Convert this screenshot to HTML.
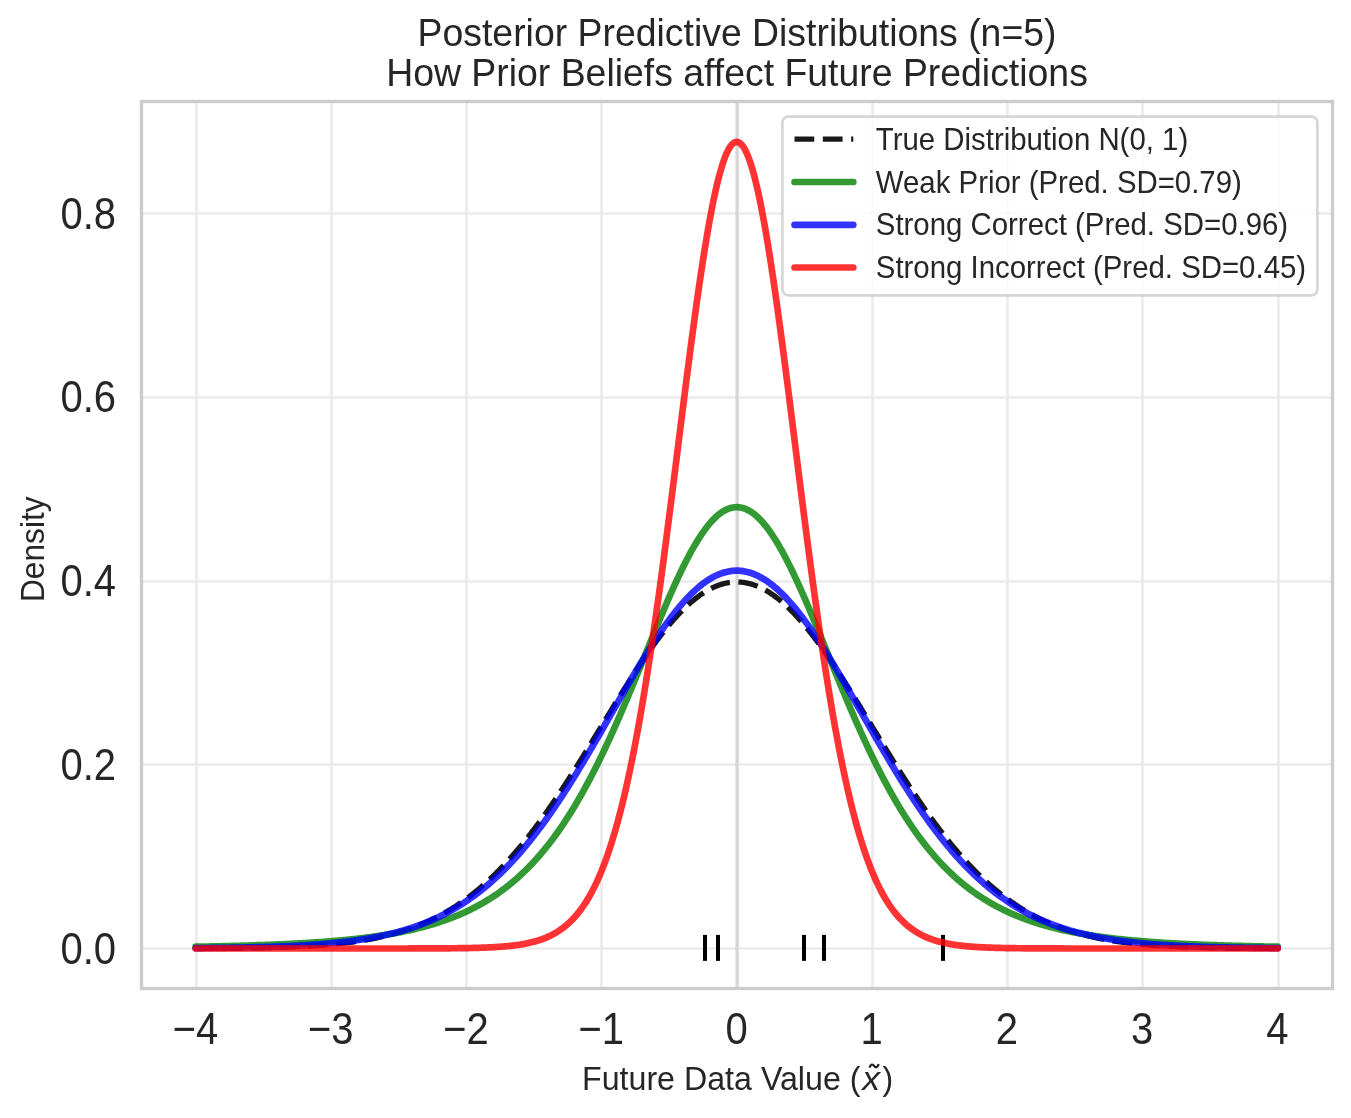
<!DOCTYPE html>
<html><head><meta charset="utf-8"><style>html,body{margin:0;padding:0;background:#fff;width:1351px;height:1118px;overflow:hidden}</style></head>
<body><svg width="1351" height="1118" viewBox="0 0 1351 1118" style="display:block;will-change:transform"><rect x="0" y="0" width="1351" height="1118" fill="#ffffff"/><line x1="196.50" y1="101.5" x2="196.50" y2="988.5" stroke="#ebebeb" stroke-width="2.67"/><line x1="331.50" y1="101.5" x2="331.50" y2="988.5" stroke="#ebebeb" stroke-width="2.67"/><line x1="466.50" y1="101.5" x2="466.50" y2="988.5" stroke="#ebebeb" stroke-width="2.67"/><line x1="601.50" y1="101.5" x2="601.50" y2="988.5" stroke="#ebebeb" stroke-width="2.67"/><line x1="737.50" y1="101.5" x2="737.50" y2="988.5" stroke="#ebebeb" stroke-width="2.67"/><line x1="872.50" y1="101.5" x2="872.50" y2="988.5" stroke="#ebebeb" stroke-width="2.67"/><line x1="1007.50" y1="101.5" x2="1007.50" y2="988.5" stroke="#ebebeb" stroke-width="2.67"/><line x1="1142.50" y1="101.5" x2="1142.50" y2="988.5" stroke="#ebebeb" stroke-width="2.67"/><line x1="1278.50" y1="101.5" x2="1278.50" y2="988.5" stroke="#ebebeb" stroke-width="2.67"/><line x1="141.5" y1="948.50" x2="1332.5" y2="948.50" stroke="#ebebeb" stroke-width="2.67"/><line x1="141.5" y1="764.50" x2="1332.5" y2="764.50" stroke="#ebebeb" stroke-width="2.67"/><line x1="141.5" y1="581.50" x2="1332.5" y2="581.50" stroke="#ebebeb" stroke-width="2.67"/><line x1="141.5" y1="397.50" x2="1332.5" y2="397.50" stroke="#ebebeb" stroke-width="2.67"/><line x1="141.5" y1="213.50" x2="1332.5" y2="213.50" stroke="#ebebeb" stroke-width="2.67"/><line x1="737.1" y1="101.5" x2="737.1" y2="988.5" stroke="#d7d7d7" stroke-width="3.3"/><rect x="703.00" y="934.9" width="4.0" height="25.95" fill="#000000"/><rect x="716.00" y="934.9" width="4.0" height="25.95" fill="#000000"/><rect x="802.00" y="934.9" width="4.0" height="25.95" fill="#000000"/><rect x="822.00" y="934.9" width="4.0" height="25.95" fill="#000000"/><rect x="941.00" y="934.9" width="4.0" height="25.95" fill="#000000"/><polyline points="195.70,948.38 196.78,948.37 197.87,948.37 198.95,948.36 200.03,948.36 201.12,948.36 202.20,948.35 203.28,948.35 204.36,948.34 205.45,948.34 206.53,948.33 207.61,948.33 208.70,948.32 209.78,948.31 210.86,948.31 211.95,948.30 213.03,948.30 214.11,948.29 215.20,948.28 216.28,948.28 217.36,948.27 218.44,948.26 219.53,948.26 220.61,948.25 221.69,948.24 222.78,948.23 223.86,948.22 224.94,948.21 226.03,948.21 227.11,948.20 228.19,948.19 229.28,948.18 230.36,948.17 231.44,948.16 232.52,948.15 233.61,948.14 234.69,948.13 235.77,948.12 236.86,948.10 237.94,948.09 239.02,948.08 240.11,948.07 241.19,948.05 242.27,948.04 243.36,948.03 244.44,948.01 245.52,948.00 246.60,947.98 247.69,947.97 248.77,947.95 249.85,947.94 250.94,947.92 252.02,947.90 253.10,947.89 254.19,947.87 255.27,947.85 256.35,947.83 257.44,947.81 258.52,947.79 259.60,947.77 260.68,947.75 261.77,947.73 262.85,947.71 263.93,947.69 265.02,947.66 266.10,947.64 267.18,947.61 268.27,947.59 269.35,947.56 270.43,947.54 271.52,947.51 272.60,947.48 273.68,947.45 274.77,947.43 275.85,947.40 276.93,947.37 278.01,947.33 279.10,947.30 280.18,947.27 281.26,947.24 282.35,947.20 283.43,947.17 284.51,947.13 285.60,947.09 286.68,947.05 287.76,947.02 288.85,946.98 289.93,946.93 291.01,946.89 292.09,946.85 293.18,946.81 294.26,946.76 295.34,946.71 296.43,946.67 297.51,946.62 298.59,946.57 299.68,946.52 300.76,946.47 301.84,946.41 302.93,946.36 304.01,946.30 305.09,946.25 306.17,946.19 307.26,946.13 308.34,946.07 309.42,946.01 310.51,945.94 311.59,945.88 312.67,945.81 313.76,945.74 314.84,945.67 315.92,945.60 317.01,945.53 318.09,945.45 319.17,945.38 320.25,945.30 321.34,945.22 322.42,945.14 323.50,945.05 324.59,944.97 325.67,944.88 326.75,944.79 327.84,944.70 328.92,944.61 330.00,944.51 331.09,944.42 332.17,944.32 333.25,944.22 334.33,944.11 335.42,944.01 336.50,943.90 337.58,943.79 338.67,943.68 339.75,943.56 340.83,943.44 341.92,943.32 343.00,943.20 344.08,943.08 345.17,942.95 346.25,942.82 347.33,942.69 348.41,942.55 349.50,942.41 350.58,942.27 351.66,942.13 352.75,941.98 353.83,941.83 354.91,941.68 356.00,941.52 357.08,941.37 358.16,941.20 359.25,941.04 360.33,940.87 361.41,940.70 362.49,940.52 363.58,940.34 364.66,940.16 365.74,939.98 366.83,939.79 367.91,939.60 368.99,939.40 370.08,939.20 371.16,939.00 372.24,938.79 373.33,938.58 374.41,938.36 375.49,938.14 376.57,937.92 377.66,937.69 378.74,937.46 379.82,937.22 380.91,936.98 381.99,936.74 383.07,936.49 384.16,936.23 385.24,935.98 386.32,935.71 387.41,935.44 388.49,935.17 389.57,934.89 390.65,934.61 391.74,934.33 392.82,934.03 393.90,933.74 394.99,933.43 396.07,933.13 397.15,932.81 398.24,932.50 399.32,932.17 400.40,931.84 401.49,931.51 402.57,931.17 403.65,930.82 404.74,930.47 405.82,930.12 406.90,929.75 407.98,929.38 409.07,929.01 410.15,928.63 411.23,928.24 412.32,927.85 413.40,927.45 414.48,927.04 415.57,926.63 416.65,926.21 417.73,925.78 418.82,925.35 419.90,924.91 420.98,924.46 422.06,924.01 423.15,923.55 424.23,923.09 425.31,922.61 426.40,922.13 427.48,921.64 428.56,921.15 429.65,920.65 430.73,920.13 431.81,919.62 432.90,919.09 433.98,918.56 435.06,918.02 436.14,917.47 437.23,916.91 438.31,916.35 439.39,915.78 440.48,915.20 441.56,914.61 442.64,914.01 443.73,913.41 444.81,912.80 445.89,912.18 446.98,911.55 448.06,910.91 449.14,910.26 450.22,909.61 451.31,908.94 452.39,908.27 453.47,907.59 454.56,906.90 455.64,906.20 456.72,905.49 457.81,904.77 458.89,904.04 459.97,903.31 461.06,902.56 462.14,901.81 463.22,901.04 464.30,900.27 465.39,899.49 466.47,898.70 467.55,897.90 468.64,897.08 469.72,896.26 470.80,895.43 471.89,894.59 472.97,893.74 474.05,892.88 475.14,892.01 476.22,891.13 477.30,890.24 478.38,889.34 479.47,888.43 480.55,887.51 481.63,886.58 482.72,885.64 483.80,884.69 484.88,883.73 485.97,882.76 487.05,881.78 488.13,880.79 489.22,879.79 490.30,878.78 491.38,877.75 492.46,876.72 493.55,875.68 494.63,874.62 495.71,873.56 496.80,872.48 497.88,871.40 498.96,870.30 500.05,869.20 501.13,868.08 502.21,866.95 503.30,865.82 504.38,864.67 505.46,863.51 506.54,862.34 507.63,861.16 508.71,859.97 509.79,858.77 510.88,857.56 511.96,856.34 513.04,855.11 514.13,853.87 515.21,852.62 516.29,851.35 517.38,850.08 518.46,848.80 519.54,847.50 520.62,846.20 521.71,844.89 522.79,843.56 523.87,842.23 524.96,840.88 526.04,839.53 527.12,838.16 528.21,836.79 529.29,835.41 530.37,834.01 531.46,832.61 532.54,831.20 533.62,829.77 534.71,828.34 535.79,826.90 536.87,825.45 537.95,823.99 539.04,822.52 540.12,821.04 541.20,819.55 542.29,818.05 543.37,816.55 544.45,815.03 545.54,813.51 546.62,811.98 547.70,810.44 548.79,808.89 549.87,807.33 550.95,805.76 552.03,804.19 553.12,802.61 554.20,801.02 555.28,799.42 556.37,797.82 557.45,796.20 558.53,794.58 559.62,792.96 560.70,791.32 561.78,789.68 562.87,788.03 563.95,786.38 565.03,784.72 566.11,783.05 567.20,781.37 568.28,779.69 569.36,778.01 570.45,776.31 571.53,774.62 572.61,772.91 573.70,771.20 574.78,769.49 575.86,767.77 576.95,766.05 578.03,764.32 579.11,762.59 580.19,760.85 581.28,759.11 582.36,757.37 583.44,755.62 584.53,753.87 585.61,752.11 586.69,750.35 587.78,748.59 588.86,746.83 589.94,745.06 591.03,743.29 592.11,741.52 593.19,739.75 594.27,737.97 595.36,736.20 596.44,734.42 597.52,732.64 598.61,730.86 599.69,729.08 600.77,727.30 601.86,725.52 602.94,723.74 604.02,721.96 605.11,720.18 606.19,718.40 607.27,716.63 608.35,714.85 609.44,713.08 610.52,711.30 611.60,709.53 612.69,707.76 613.77,706.00 614.85,704.23 615.94,702.47 617.02,700.71 618.10,698.96 619.19,697.21 620.27,695.46 621.35,693.72 622.43,691.98 623.52,690.25 624.60,688.52 625.68,686.80 626.77,685.08 627.85,683.37 628.93,681.66 630.02,679.96 631.10,678.27 632.18,676.59 633.27,674.91 634.35,673.23 635.43,671.57 636.51,669.91 637.60,668.27 638.68,666.63 639.76,664.99 640.85,663.37 641.93,661.76 643.01,660.15 644.10,658.56 645.18,656.97 646.26,655.40 647.35,653.83 648.43,652.28 649.51,650.74 650.59,649.21 651.68,647.69 652.76,646.18 653.84,644.68 654.93,643.20 656.01,641.73 657.09,640.27 658.18,638.82 659.26,637.39 660.34,635.97 661.43,634.56 662.51,633.17 663.59,631.79 664.67,630.43 665.76,629.08 666.84,627.74 667.92,626.42 669.01,625.12 670.09,623.83 671.17,622.56 672.26,621.30 673.34,620.06 674.42,618.84 675.51,617.63 676.59,616.44 677.67,615.27 678.76,614.11 679.84,612.97 680.92,611.85 682.00,610.75 683.09,609.67 684.17,608.60 685.25,607.55 686.34,606.52 687.42,605.51 688.50,604.52 689.59,603.55 690.67,602.60 691.75,601.66 692.84,600.75 693.92,599.86 695.00,598.98 696.08,598.13 697.17,597.30 698.25,596.49 699.33,595.70 700.42,594.93 701.50,594.18 702.58,593.45 703.67,592.74 704.75,592.06 705.83,591.39 706.92,590.75 708.00,590.13 709.08,589.53 710.16,588.96 711.25,588.40 712.33,587.87 713.41,587.36 714.50,586.88 715.58,586.41 716.66,585.97 717.75,585.55 718.83,585.16 719.91,584.78 721.00,584.43 722.08,584.11 723.16,583.80 724.24,583.52 725.33,583.27 726.41,583.03 727.49,582.82 728.58,582.63 729.66,582.47 730.74,582.33 731.83,582.21 732.91,582.12 733.99,582.05 735.08,582.00 736.16,581.97 737.24,581.97 738.32,582.00 739.41,582.05 740.49,582.12 741.57,582.21 742.66,582.33 743.74,582.47 744.82,582.63 745.91,582.82 746.99,583.03 748.07,583.27 749.16,583.52 750.24,583.80 751.32,584.11 752.40,584.43 753.49,584.78 754.57,585.16 755.65,585.55 756.74,585.97 757.82,586.41 758.90,586.88 759.99,587.36 761.07,587.87 762.15,588.40 763.24,588.96 764.32,589.53 765.40,590.13 766.48,590.75 767.57,591.39 768.65,592.06 769.73,592.74 770.82,593.45 771.90,594.18 772.98,594.93 774.07,595.70 775.15,596.49 776.23,597.30 777.32,598.13 778.40,598.98 779.48,599.86 780.56,600.75 781.65,601.66 782.73,602.60 783.81,603.55 784.90,604.52 785.98,605.51 787.06,606.52 788.15,607.55 789.23,608.60 790.31,609.67 791.40,610.75 792.48,611.85 793.56,612.97 794.64,614.11 795.73,615.27 796.81,616.44 797.89,617.63 798.98,618.84 800.06,620.06 801.14,621.30 802.23,622.56 803.31,623.83 804.39,625.12 805.48,626.42 806.56,627.74 807.64,629.08 808.73,630.43 809.81,631.79 810.89,633.17 811.97,634.56 813.06,635.97 814.14,637.39 815.22,638.82 816.31,640.27 817.39,641.73 818.47,643.20 819.56,644.68 820.64,646.18 821.72,647.69 822.81,649.21 823.89,650.74 824.97,652.28 826.05,653.83 827.14,655.40 828.22,656.97 829.30,658.56 830.39,660.15 831.47,661.76 832.55,663.37 833.64,664.99 834.72,666.63 835.80,668.27 836.89,669.91 837.97,671.57 839.05,673.23 840.13,674.91 841.22,676.59 842.30,678.27 843.38,679.96 844.47,681.66 845.55,683.37 846.63,685.08 847.72,686.80 848.80,688.52 849.88,690.25 850.97,691.98 852.05,693.72 853.13,695.46 854.21,697.21 855.30,698.96 856.38,700.71 857.46,702.47 858.55,704.23 859.63,706.00 860.71,707.76 861.80,709.53 862.88,711.30 863.96,713.08 865.05,714.85 866.13,716.63 867.21,718.40 868.29,720.18 869.38,721.96 870.46,723.74 871.54,725.52 872.63,727.30 873.71,729.08 874.79,730.86 875.88,732.64 876.96,734.42 878.04,736.20 879.13,737.97 880.21,739.75 881.29,741.52 882.37,743.29 883.46,745.06 884.54,746.83 885.62,748.59 886.71,750.35 887.79,752.11 888.87,753.87 889.96,755.62 891.04,757.37 892.12,759.11 893.21,760.85 894.29,762.59 895.37,764.32 896.45,766.05 897.54,767.77 898.62,769.49 899.70,771.20 900.79,772.91 901.87,774.62 902.95,776.31 904.04,778.01 905.12,779.69 906.20,781.37 907.29,783.05 908.37,784.72 909.45,786.38 910.53,788.03 911.62,789.68 912.70,791.32 913.78,792.96 914.87,794.58 915.95,796.20 917.03,797.82 918.12,799.42 919.20,801.02 920.28,802.61 921.37,804.19 922.45,805.76 923.53,807.33 924.61,808.89 925.70,810.44 926.78,811.98 927.86,813.51 928.95,815.03 930.03,816.55 931.11,818.05 932.20,819.55 933.28,821.04 934.36,822.52 935.45,823.99 936.53,825.45 937.61,826.90 938.69,828.34 939.78,829.77 940.86,831.20 941.94,832.61 943.03,834.01 944.11,835.41 945.19,836.79 946.28,838.16 947.36,839.53 948.44,840.88 949.53,842.23 950.61,843.56 951.69,844.89 952.78,846.20 953.86,847.50 954.94,848.80 956.02,850.08 957.11,851.35 958.19,852.62 959.27,853.87 960.36,855.11 961.44,856.34 962.52,857.56 963.61,858.77 964.69,859.97 965.77,861.16 966.86,862.34 967.94,863.51 969.02,864.67 970.10,865.82 971.19,866.95 972.27,868.08 973.35,869.20 974.44,870.30 975.52,871.40 976.60,872.48 977.69,873.56 978.77,874.62 979.85,875.68 980.94,876.72 982.02,877.75 983.10,878.78 984.18,879.79 985.27,880.79 986.35,881.78 987.43,882.76 988.52,883.73 989.60,884.69 990.68,885.64 991.77,886.58 992.85,887.51 993.93,888.43 995.02,889.34 996.10,890.24 997.18,891.13 998.26,892.01 999.35,892.88 1000.43,893.74 1001.51,894.59 1002.60,895.43 1003.68,896.26 1004.76,897.08 1005.85,897.90 1006.93,898.70 1008.01,899.49 1009.10,900.27 1010.18,901.04 1011.26,901.81 1012.34,902.56 1013.43,903.31 1014.51,904.04 1015.59,904.77 1016.68,905.49 1017.76,906.20 1018.84,906.90 1019.93,907.59 1021.01,908.27 1022.09,908.94 1023.18,909.61 1024.26,910.26 1025.34,910.91 1026.42,911.55 1027.51,912.18 1028.59,912.80 1029.67,913.41 1030.76,914.01 1031.84,914.61 1032.92,915.20 1034.01,915.78 1035.09,916.35 1036.17,916.91 1037.26,917.47 1038.34,918.02 1039.42,918.56 1040.50,919.09 1041.59,919.62 1042.67,920.13 1043.75,920.65 1044.84,921.15 1045.92,921.64 1047.00,922.13 1048.09,922.61 1049.17,923.09 1050.25,923.55 1051.34,924.01 1052.42,924.46 1053.50,924.91 1054.58,925.35 1055.67,925.78 1056.75,926.21 1057.83,926.63 1058.92,927.04 1060.00,927.45 1061.08,927.85 1062.17,928.24 1063.25,928.63 1064.33,929.01 1065.42,929.38 1066.50,929.75 1067.58,930.12 1068.66,930.47 1069.75,930.82 1070.83,931.17 1071.91,931.51 1073.00,931.84 1074.08,932.17 1075.16,932.50 1076.25,932.81 1077.33,933.13 1078.41,933.43 1079.50,933.74 1080.58,934.03 1081.66,934.33 1082.75,934.61 1083.83,934.89 1084.91,935.17 1085.99,935.44 1087.08,935.71 1088.16,935.98 1089.24,936.23 1090.33,936.49 1091.41,936.74 1092.49,936.98 1093.58,937.22 1094.66,937.46 1095.74,937.69 1096.83,937.92 1097.91,938.14 1098.99,938.36 1100.07,938.58 1101.16,938.79 1102.24,939.00 1103.32,939.20 1104.41,939.40 1105.49,939.60 1106.57,939.79 1107.66,939.98 1108.74,940.16 1109.82,940.34 1110.91,940.52 1111.99,940.70 1113.07,940.87 1114.15,941.04 1115.24,941.20 1116.32,941.37 1117.40,941.52 1118.49,941.68 1119.57,941.83 1120.65,941.98 1121.74,942.13 1122.82,942.27 1123.90,942.41 1124.99,942.55 1126.07,942.69 1127.15,942.82 1128.23,942.95 1129.32,943.08 1130.40,943.20 1131.48,943.32 1132.57,943.44 1133.65,943.56 1134.73,943.68 1135.82,943.79 1136.90,943.90 1137.98,944.01 1139.07,944.11 1140.15,944.22 1141.23,944.32 1142.31,944.42 1143.40,944.51 1144.48,944.61 1145.56,944.70 1146.65,944.79 1147.73,944.88 1148.81,944.97 1149.90,945.05 1150.98,945.14 1152.06,945.22 1153.15,945.30 1154.23,945.38 1155.31,945.45 1156.39,945.53 1157.48,945.60 1158.56,945.67 1159.64,945.74 1160.73,945.81 1161.81,945.88 1162.89,945.94 1163.98,946.01 1165.06,946.07 1166.14,946.13 1167.23,946.19 1168.31,946.25 1169.39,946.30 1170.47,946.36 1171.56,946.41 1172.64,946.47 1173.72,946.52 1174.81,946.57 1175.89,946.62 1176.97,946.67 1178.06,946.71 1179.14,946.76 1180.22,946.81 1181.31,946.85 1182.39,946.89 1183.47,946.93 1184.55,946.98 1185.64,947.02 1186.72,947.05 1187.80,947.09 1188.89,947.13 1189.97,947.17 1191.05,947.20 1192.14,947.24 1193.22,947.27 1194.30,947.30 1195.39,947.33 1196.47,947.37 1197.55,947.40 1198.63,947.43 1199.72,947.45 1200.80,947.48 1201.88,947.51 1202.97,947.54 1204.05,947.56 1205.13,947.59 1206.22,947.61 1207.30,947.64 1208.38,947.66 1209.47,947.69 1210.55,947.71 1211.63,947.73 1212.72,947.75 1213.80,947.77 1214.88,947.79 1215.96,947.81 1217.05,947.83 1218.13,947.85 1219.21,947.87 1220.30,947.89 1221.38,947.90 1222.46,947.92 1223.55,947.94 1224.63,947.95 1225.71,947.97 1226.80,947.98 1227.88,948.00 1228.96,948.01 1230.04,948.03 1231.13,948.04 1232.21,948.05 1233.29,948.07 1234.38,948.08 1235.46,948.09 1236.54,948.10 1237.63,948.12 1238.71,948.13 1239.79,948.14 1240.88,948.15 1241.96,948.16 1243.04,948.17 1244.12,948.18 1245.21,948.19 1246.29,948.20 1247.37,948.21 1248.46,948.21 1249.54,948.22 1250.62,948.23 1251.71,948.24 1252.79,948.25 1253.87,948.26 1254.96,948.26 1256.04,948.27 1257.12,948.28 1258.20,948.28 1259.29,948.29 1260.37,948.30 1261.45,948.30 1262.54,948.31 1263.62,948.31 1264.70,948.32 1265.79,948.33 1266.87,948.33 1267.95,948.34 1269.04,948.34 1270.12,948.35 1271.20,948.35 1272.28,948.36 1273.37,948.36 1274.45,948.36 1275.53,948.37 1276.62,948.37 1277.70,948.38" fill="none" stroke="#000000" stroke-opacity="0.9" stroke-width="5.34" stroke-dasharray="19.77 8.55" stroke-dashoffset="1" stroke-linecap="butt" stroke-linejoin="round"/><polyline points="195.70,946.71 196.78,946.69 197.87,946.67 198.95,946.65 200.03,946.63 201.12,946.61 202.20,946.59 203.28,946.57 204.36,946.55 205.45,946.53 206.53,946.51 207.61,946.49 208.70,946.47 209.78,946.45 210.86,946.43 211.95,946.41 213.03,946.38 214.11,946.36 215.20,946.34 216.28,946.32 217.36,946.29 218.44,946.27 219.53,946.24 220.61,946.22 221.69,946.20 222.78,946.17 223.86,946.15 224.94,946.12 226.03,946.10 227.11,946.07 228.19,946.04 229.28,946.02 230.36,945.99 231.44,945.96 232.52,945.94 233.61,945.91 234.69,945.88 235.77,945.85 236.86,945.82 237.94,945.79 239.02,945.76 240.11,945.73 241.19,945.70 242.27,945.67 243.36,945.64 244.44,945.61 245.52,945.58 246.60,945.55 247.69,945.51 248.77,945.48 249.85,945.45 250.94,945.41 252.02,945.38 253.10,945.34 254.19,945.31 255.27,945.27 256.35,945.24 257.44,945.20 258.52,945.16 259.60,945.13 260.68,945.09 261.77,945.05 262.85,945.01 263.93,944.97 265.02,944.93 266.10,944.89 267.18,944.85 268.27,944.81 269.35,944.77 270.43,944.73 271.52,944.68 272.60,944.64 273.68,944.60 274.77,944.55 275.85,944.51 276.93,944.46 278.01,944.41 279.10,944.37 280.18,944.32 281.26,944.27 282.35,944.22 283.43,944.17 284.51,944.12 285.60,944.07 286.68,944.02 287.76,943.97 288.85,943.92 289.93,943.86 291.01,943.81 292.09,943.75 293.18,943.70 294.26,943.64 295.34,943.59 296.43,943.53 297.51,943.47 298.59,943.41 299.68,943.35 300.76,943.29 301.84,943.23 302.93,943.17 304.01,943.10 305.09,943.04 306.17,942.97 307.26,942.91 308.34,942.84 309.42,942.77 310.51,942.71 311.59,942.64 312.67,942.57 313.76,942.50 314.84,942.42 315.92,942.35 317.01,942.28 318.09,942.20 319.17,942.13 320.25,942.05 321.34,941.97 322.42,941.89 323.50,941.81 324.59,941.73 325.67,941.65 326.75,941.57 327.84,941.48 328.92,941.40 330.00,941.31 331.09,941.22 332.17,941.13 333.25,941.04 334.33,940.95 335.42,940.86 336.50,940.76 337.58,940.67 338.67,940.57 339.75,940.48 340.83,940.38 341.92,940.28 343.00,940.17 344.08,940.07 345.17,939.97 346.25,939.86 347.33,939.75 348.41,939.64 349.50,939.53 350.58,939.42 351.66,939.31 352.75,939.19 353.83,939.08 354.91,938.96 356.00,938.84 357.08,938.72 358.16,938.59 359.25,938.47 360.33,938.34 361.41,938.21 362.49,938.08 363.58,937.95 364.66,937.82 365.74,937.68 366.83,937.54 367.91,937.40 368.99,937.26 370.08,937.12 371.16,936.97 372.24,936.83 373.33,936.68 374.41,936.52 375.49,936.37 376.57,936.21 377.66,936.06 378.74,935.90 379.82,935.73 380.91,935.57 381.99,935.40 383.07,935.23 384.16,935.06 385.24,934.89 386.32,934.71 387.41,934.53 388.49,934.35 389.57,934.17 390.65,933.98 391.74,933.79 392.82,933.60 393.90,933.40 394.99,933.20 396.07,933.00 397.15,932.80 398.24,932.59 399.32,932.39 400.40,932.17 401.49,931.96 402.57,931.74 403.65,931.52 404.74,931.30 405.82,931.07 406.90,930.84 407.98,930.60 409.07,930.37 410.15,930.13 411.23,929.88 412.32,929.63 413.40,929.38 414.48,929.13 415.57,928.87 416.65,928.61 417.73,928.34 418.82,928.07 419.90,927.80 420.98,927.52 422.06,927.24 423.15,926.96 424.23,926.67 425.31,926.37 426.40,926.08 427.48,925.77 428.56,925.47 429.65,925.16 430.73,924.84 431.81,924.52 432.90,924.20 433.98,923.87 435.06,923.54 436.14,923.20 437.23,922.86 438.31,922.51 439.39,922.16 440.48,921.80 441.56,921.43 442.64,921.07 443.73,920.69 444.81,920.31 445.89,919.93 446.98,919.54 448.06,919.14 449.14,918.74 450.22,918.34 451.31,917.93 452.39,917.51 453.47,917.08 454.56,916.65 455.64,916.22 456.72,915.77 457.81,915.32 458.89,914.87 459.97,914.41 461.06,913.94 462.14,913.46 463.22,912.98 464.30,912.49 465.39,912.00 466.47,911.49 467.55,910.98 468.64,910.47 469.72,909.94 470.80,909.41 471.89,908.87 472.97,908.33 474.05,907.77 475.14,907.21 476.22,906.64 477.30,906.06 478.38,905.47 479.47,904.88 480.55,904.27 481.63,903.66 482.72,903.04 483.80,902.41 484.88,901.78 485.97,901.13 487.05,900.47 488.13,899.81 489.22,899.14 490.30,898.45 491.38,897.76 492.46,897.06 493.55,896.34 494.63,895.62 495.71,894.89 496.80,894.15 497.88,893.40 498.96,892.63 500.05,891.86 501.13,891.08 502.21,890.28 503.30,889.48 504.38,888.66 505.46,887.83 506.54,886.99 507.63,886.14 508.71,885.28 509.79,884.41 510.88,883.53 511.96,882.63 513.04,881.72 514.13,880.80 515.21,879.87 516.29,878.92 517.38,877.96 518.46,876.99 519.54,876.01 520.62,875.01 521.71,874.00 522.79,872.98 523.87,871.94 524.96,870.90 526.04,869.83 527.12,868.76 528.21,867.66 529.29,866.56 530.37,865.44 531.46,864.31 532.54,863.16 533.62,862.00 534.71,860.82 535.79,859.63 536.87,858.42 537.95,857.20 539.04,855.96 540.12,854.71 541.20,853.44 542.29,852.16 543.37,850.86 544.45,849.55 545.54,848.22 546.62,846.87 547.70,845.51 548.79,844.13 549.87,842.73 550.95,841.32 552.03,839.89 553.12,838.45 554.20,836.99 555.28,835.51 556.37,834.01 557.45,832.50 558.53,830.97 559.62,829.42 560.70,827.86 561.78,826.27 562.87,824.67 563.95,823.06 565.03,821.42 566.11,819.77 567.20,818.10 568.28,816.41 569.36,814.70 570.45,812.98 571.53,811.23 572.61,809.47 573.70,807.69 574.78,805.90 575.86,804.08 576.95,802.25 578.03,800.40 579.11,798.53 580.19,796.64 581.28,794.73 582.36,792.81 583.44,790.87 584.53,788.90 585.61,786.93 586.69,784.93 587.78,782.91 588.86,780.88 589.94,778.83 591.03,776.76 592.11,774.67 593.19,772.57 594.27,770.45 595.36,768.31 596.44,766.15 597.52,763.98 598.61,761.78 599.69,759.58 600.77,757.35 601.86,755.11 602.94,752.85 604.02,750.57 605.11,748.28 606.19,745.98 607.27,743.65 608.35,741.31 609.44,738.96 610.52,736.59 611.60,734.21 612.69,731.81 613.77,729.39 614.85,726.97 615.94,724.53 617.02,722.07 618.10,719.61 619.19,717.13 620.27,714.63 621.35,712.13 622.43,709.61 623.52,707.09 624.60,704.55 625.68,702.00 626.77,699.44 627.85,696.87 628.93,694.29 630.02,691.71 631.10,689.11 632.18,686.51 633.27,683.90 634.35,681.28 635.43,678.66 636.51,676.03 637.60,673.40 638.68,670.76 639.76,668.12 640.85,665.47 641.93,662.83 643.01,660.17 644.10,657.52 645.18,654.87 646.26,652.22 647.35,649.56 648.43,646.91 649.51,644.26 650.59,641.61 651.68,638.97 652.76,636.32 653.84,633.69 654.93,631.06 656.01,628.43 657.09,625.81 658.18,623.20 659.26,620.60 660.34,618.01 661.43,615.42 662.51,612.85 663.59,610.29 664.67,607.74 665.76,605.20 666.84,602.68 667.92,600.17 669.01,597.68 670.09,595.21 671.17,592.75 672.26,590.31 673.34,587.89 674.42,585.49 675.51,583.11 676.59,580.75 677.67,578.41 678.76,576.10 679.84,573.81 680.92,571.55 682.00,569.31 683.09,567.10 684.17,564.92 685.25,562.77 686.34,560.64 687.42,558.55 688.50,556.48 689.59,554.45 690.67,552.45 691.75,550.48 692.84,548.55 693.92,546.66 695.00,544.80 696.08,542.97 697.17,541.19 698.25,539.44 699.33,537.73 700.42,536.06 701.50,534.43 702.58,532.85 703.67,531.30 704.75,529.80 705.83,528.34 706.92,526.92 708.00,525.55 709.08,524.23 710.16,522.95 711.25,521.71 712.33,520.53 713.41,519.39 714.50,518.30 715.58,517.25 716.66,516.26 717.75,515.32 718.83,514.42 719.91,513.58 721.00,512.79 722.08,512.04 723.16,511.35 724.24,510.72 725.33,510.13 726.41,509.60 727.49,509.11 728.58,508.69 729.66,508.31 730.74,507.99 731.83,507.72 732.91,507.50 733.99,507.34 735.08,507.24 736.16,507.18 737.24,507.18 738.32,507.24 739.41,507.34 740.49,507.50 741.57,507.72 742.66,507.99 743.74,508.31 744.82,508.69 745.91,509.11 746.99,509.60 748.07,510.13 749.16,510.72 750.24,511.35 751.32,512.04 752.40,512.79 753.49,513.58 754.57,514.42 755.65,515.32 756.74,516.26 757.82,517.25 758.90,518.30 759.99,519.39 761.07,520.53 762.15,521.71 763.24,522.95 764.32,524.23 765.40,525.55 766.48,526.92 767.57,528.34 768.65,529.80 769.73,531.30 770.82,532.85 771.90,534.43 772.98,536.06 774.07,537.73 775.15,539.44 776.23,541.19 777.32,542.97 778.40,544.80 779.48,546.66 780.56,548.55 781.65,550.48 782.73,552.45 783.81,554.45 784.90,556.48 785.98,558.55 787.06,560.64 788.15,562.77 789.23,564.92 790.31,567.10 791.40,569.31 792.48,571.55 793.56,573.81 794.64,576.10 795.73,578.41 796.81,580.75 797.89,583.11 798.98,585.49 800.06,587.89 801.14,590.31 802.23,592.75 803.31,595.21 804.39,597.68 805.48,600.17 806.56,602.68 807.64,605.20 808.73,607.74 809.81,610.29 810.89,612.85 811.97,615.42 813.06,618.01 814.14,620.60 815.22,623.20 816.31,625.81 817.39,628.43 818.47,631.06 819.56,633.69 820.64,636.32 821.72,638.97 822.81,641.61 823.89,644.26 824.97,646.91 826.05,649.56 827.14,652.22 828.22,654.87 829.30,657.52 830.39,660.17 831.47,662.83 832.55,665.47 833.64,668.12 834.72,670.76 835.80,673.40 836.89,676.03 837.97,678.66 839.05,681.28 840.13,683.90 841.22,686.51 842.30,689.11 843.38,691.71 844.47,694.29 845.55,696.87 846.63,699.44 847.72,702.00 848.80,704.55 849.88,707.09 850.97,709.61 852.05,712.13 853.13,714.63 854.21,717.13 855.30,719.61 856.38,722.07 857.46,724.53 858.55,726.97 859.63,729.39 860.71,731.81 861.80,734.21 862.88,736.59 863.96,738.96 865.05,741.31 866.13,743.65 867.21,745.98 868.29,748.28 869.38,750.57 870.46,752.85 871.54,755.11 872.63,757.35 873.71,759.58 874.79,761.78 875.88,763.98 876.96,766.15 878.04,768.31 879.13,770.45 880.21,772.57 881.29,774.67 882.37,776.76 883.46,778.83 884.54,780.88 885.62,782.91 886.71,784.93 887.79,786.93 888.87,788.90 889.96,790.87 891.04,792.81 892.12,794.73 893.21,796.64 894.29,798.53 895.37,800.40 896.45,802.25 897.54,804.08 898.62,805.90 899.70,807.69 900.79,809.47 901.87,811.23 902.95,812.98 904.04,814.70 905.12,816.41 906.20,818.10 907.29,819.77 908.37,821.42 909.45,823.06 910.53,824.67 911.62,826.27 912.70,827.86 913.78,829.42 914.87,830.97 915.95,832.50 917.03,834.01 918.12,835.51 919.20,836.99 920.28,838.45 921.37,839.89 922.45,841.32 923.53,842.73 924.61,844.13 925.70,845.51 926.78,846.87 927.86,848.22 928.95,849.55 930.03,850.86 931.11,852.16 932.20,853.44 933.28,854.71 934.36,855.96 935.45,857.20 936.53,858.42 937.61,859.63 938.69,860.82 939.78,862.00 940.86,863.16 941.94,864.31 943.03,865.44 944.11,866.56 945.19,867.66 946.28,868.76 947.36,869.83 948.44,870.90 949.53,871.94 950.61,872.98 951.69,874.00 952.78,875.01 953.86,876.01 954.94,876.99 956.02,877.96 957.11,878.92 958.19,879.87 959.27,880.80 960.36,881.72 961.44,882.63 962.52,883.53 963.61,884.41 964.69,885.28 965.77,886.14 966.86,886.99 967.94,887.83 969.02,888.66 970.10,889.48 971.19,890.28 972.27,891.08 973.35,891.86 974.44,892.63 975.52,893.40 976.60,894.15 977.69,894.89 978.77,895.62 979.85,896.34 980.94,897.06 982.02,897.76 983.10,898.45 984.18,899.14 985.27,899.81 986.35,900.47 987.43,901.13 988.52,901.78 989.60,902.41 990.68,903.04 991.77,903.66 992.85,904.27 993.93,904.88 995.02,905.47 996.10,906.06 997.18,906.64 998.26,907.21 999.35,907.77 1000.43,908.33 1001.51,908.87 1002.60,909.41 1003.68,909.94 1004.76,910.47 1005.85,910.98 1006.93,911.49 1008.01,912.00 1009.10,912.49 1010.18,912.98 1011.26,913.46 1012.34,913.94 1013.43,914.41 1014.51,914.87 1015.59,915.32 1016.68,915.77 1017.76,916.22 1018.84,916.65 1019.93,917.08 1021.01,917.51 1022.09,917.93 1023.18,918.34 1024.26,918.74 1025.34,919.14 1026.42,919.54 1027.51,919.93 1028.59,920.31 1029.67,920.69 1030.76,921.07 1031.84,921.43 1032.92,921.80 1034.01,922.16 1035.09,922.51 1036.17,922.86 1037.26,923.20 1038.34,923.54 1039.42,923.87 1040.50,924.20 1041.59,924.52 1042.67,924.84 1043.75,925.16 1044.84,925.47 1045.92,925.77 1047.00,926.08 1048.09,926.37 1049.17,926.67 1050.25,926.96 1051.34,927.24 1052.42,927.52 1053.50,927.80 1054.58,928.07 1055.67,928.34 1056.75,928.61 1057.83,928.87 1058.92,929.13 1060.00,929.38 1061.08,929.63 1062.17,929.88 1063.25,930.13 1064.33,930.37 1065.42,930.60 1066.50,930.84 1067.58,931.07 1068.66,931.30 1069.75,931.52 1070.83,931.74 1071.91,931.96 1073.00,932.17 1074.08,932.39 1075.16,932.59 1076.25,932.80 1077.33,933.00 1078.41,933.20 1079.50,933.40 1080.58,933.60 1081.66,933.79 1082.75,933.98 1083.83,934.17 1084.91,934.35 1085.99,934.53 1087.08,934.71 1088.16,934.89 1089.24,935.06 1090.33,935.23 1091.41,935.40 1092.49,935.57 1093.58,935.73 1094.66,935.90 1095.74,936.06 1096.83,936.21 1097.91,936.37 1098.99,936.52 1100.07,936.68 1101.16,936.83 1102.24,936.97 1103.32,937.12 1104.41,937.26 1105.49,937.40 1106.57,937.54 1107.66,937.68 1108.74,937.82 1109.82,937.95 1110.91,938.08 1111.99,938.21 1113.07,938.34 1114.15,938.47 1115.24,938.59 1116.32,938.72 1117.40,938.84 1118.49,938.96 1119.57,939.08 1120.65,939.19 1121.74,939.31 1122.82,939.42 1123.90,939.53 1124.99,939.64 1126.07,939.75 1127.15,939.86 1128.23,939.97 1129.32,940.07 1130.40,940.17 1131.48,940.28 1132.57,940.38 1133.65,940.48 1134.73,940.57 1135.82,940.67 1136.90,940.76 1137.98,940.86 1139.07,940.95 1140.15,941.04 1141.23,941.13 1142.31,941.22 1143.40,941.31 1144.48,941.40 1145.56,941.48 1146.65,941.57 1147.73,941.65 1148.81,941.73 1149.90,941.81 1150.98,941.89 1152.06,941.97 1153.15,942.05 1154.23,942.13 1155.31,942.20 1156.39,942.28 1157.48,942.35 1158.56,942.42 1159.64,942.50 1160.73,942.57 1161.81,942.64 1162.89,942.71 1163.98,942.77 1165.06,942.84 1166.14,942.91 1167.23,942.97 1168.31,943.04 1169.39,943.10 1170.47,943.17 1171.56,943.23 1172.64,943.29 1173.72,943.35 1174.81,943.41 1175.89,943.47 1176.97,943.53 1178.06,943.59 1179.14,943.64 1180.22,943.70 1181.31,943.75 1182.39,943.81 1183.47,943.86 1184.55,943.92 1185.64,943.97 1186.72,944.02 1187.80,944.07 1188.89,944.12 1189.97,944.17 1191.05,944.22 1192.14,944.27 1193.22,944.32 1194.30,944.37 1195.39,944.41 1196.47,944.46 1197.55,944.51 1198.63,944.55 1199.72,944.60 1200.80,944.64 1201.88,944.68 1202.97,944.73 1204.05,944.77 1205.13,944.81 1206.22,944.85 1207.30,944.89 1208.38,944.93 1209.47,944.97 1210.55,945.01 1211.63,945.05 1212.72,945.09 1213.80,945.13 1214.88,945.16 1215.96,945.20 1217.05,945.24 1218.13,945.27 1219.21,945.31 1220.30,945.34 1221.38,945.38 1222.46,945.41 1223.55,945.45 1224.63,945.48 1225.71,945.51 1226.80,945.55 1227.88,945.58 1228.96,945.61 1230.04,945.64 1231.13,945.67 1232.21,945.70 1233.29,945.73 1234.38,945.76 1235.46,945.79 1236.54,945.82 1237.63,945.85 1238.71,945.88 1239.79,945.91 1240.88,945.94 1241.96,945.96 1243.04,945.99 1244.12,946.02 1245.21,946.04 1246.29,946.07 1247.37,946.10 1248.46,946.12 1249.54,946.15 1250.62,946.17 1251.71,946.20 1252.79,946.22 1253.87,946.24 1254.96,946.27 1256.04,946.29 1257.12,946.32 1258.20,946.34 1259.29,946.36 1260.37,946.38 1261.45,946.41 1262.54,946.43 1263.62,946.45 1264.70,946.47 1265.79,946.49 1266.87,946.51 1267.95,946.53 1269.04,946.55 1270.12,946.57 1271.20,946.59 1272.28,946.61 1273.37,946.63 1274.45,946.65 1275.53,946.67 1276.62,946.69 1277.70,946.71" fill="none" stroke="#008000" stroke-opacity="0.8" stroke-width="6.68" stroke-linecap="round" stroke-linejoin="round"/><polyline points="195.70,948.10 196.78,948.09 197.87,948.08 198.95,948.07 200.03,948.06 201.12,948.06 202.20,948.05 203.28,948.04 204.36,948.03 205.45,948.02 206.53,948.01 207.61,947.99 208.70,947.98 209.78,947.97 210.86,947.96 211.95,947.95 213.03,947.94 214.11,947.93 215.20,947.91 216.28,947.90 217.36,947.89 218.44,947.88 219.53,947.86 220.61,947.85 221.69,947.83 222.78,947.82 223.86,947.81 224.94,947.79 226.03,947.78 227.11,947.76 228.19,947.74 229.28,947.73 230.36,947.71 231.44,947.70 232.52,947.68 233.61,947.66 234.69,947.64 235.77,947.63 236.86,947.61 237.94,947.59 239.02,947.57 240.11,947.55 241.19,947.53 242.27,947.51 243.36,947.49 244.44,947.47 245.52,947.44 246.60,947.42 247.69,947.40 248.77,947.38 249.85,947.35 250.94,947.33 252.02,947.30 253.10,947.28 254.19,947.25 255.27,947.23 256.35,947.20 257.44,947.17 258.52,947.14 259.60,947.12 260.68,947.09 261.77,947.06 262.85,947.03 263.93,947.00 265.02,946.97 266.10,946.93 267.18,946.90 268.27,946.87 269.35,946.83 270.43,946.80 271.52,946.76 272.60,946.73 273.68,946.69 274.77,946.65 275.85,946.62 276.93,946.58 278.01,946.54 279.10,946.50 280.18,946.46 281.26,946.41 282.35,946.37 283.43,946.33 284.51,946.28 285.60,946.24 286.68,946.19 287.76,946.14 288.85,946.09 289.93,946.05 291.01,946.00 292.09,945.94 293.18,945.89 294.26,945.84 295.34,945.78 296.43,945.73 297.51,945.67 298.59,945.62 299.68,945.56 300.76,945.50 301.84,945.44 302.93,945.37 304.01,945.31 305.09,945.25 306.17,945.18 307.26,945.11 308.34,945.05 309.42,944.98 310.51,944.91 311.59,944.83 312.67,944.76 313.76,944.69 314.84,944.61 315.92,944.53 317.01,944.45 318.09,944.37 319.17,944.29 320.25,944.21 321.34,944.12 322.42,944.03 323.50,943.94 324.59,943.85 325.67,943.76 326.75,943.67 327.84,943.57 328.92,943.48 330.00,943.38 331.09,943.28 332.17,943.17 333.25,943.07 334.33,942.96 335.42,942.85 336.50,942.74 337.58,942.63 338.67,942.52 339.75,942.40 340.83,942.28 341.92,942.16 343.00,942.04 344.08,941.91 345.17,941.78 346.25,941.65 347.33,941.52 348.41,941.39 349.50,941.25 350.58,941.11 351.66,940.97 352.75,940.82 353.83,940.68 354.91,940.53 356.00,940.37 357.08,940.22 358.16,940.06 359.25,939.90 360.33,939.74 361.41,939.57 362.49,939.40 363.58,939.23 364.66,939.06 365.74,938.88 366.83,938.70 367.91,938.51 368.99,938.32 370.08,938.13 371.16,937.94 372.24,937.74 373.33,937.54 374.41,937.34 375.49,937.13 376.57,936.92 377.66,936.70 378.74,936.49 379.82,936.26 380.91,936.04 381.99,935.81 383.07,935.57 384.16,935.34 385.24,935.10 386.32,934.85 387.41,934.60 388.49,934.35 389.57,934.09 390.65,933.83 391.74,933.56 392.82,933.29 393.90,933.02 394.99,932.74 396.07,932.45 397.15,932.16 398.24,931.87 399.32,931.57 400.40,931.27 401.49,930.96 402.57,930.65 403.65,930.33 404.74,930.01 405.82,929.68 406.90,929.35 407.98,929.01 409.07,928.67 410.15,928.32 411.23,927.97 412.32,927.61 413.40,927.24 414.48,926.87 415.57,926.50 416.65,926.12 417.73,925.73 418.82,925.33 419.90,924.93 420.98,924.53 422.06,924.12 423.15,923.70 424.23,923.28 425.31,922.85 426.40,922.41 427.48,921.97 428.56,921.52 429.65,921.06 430.73,920.60 431.81,920.13 432.90,919.65 433.98,919.17 435.06,918.68 436.14,918.18 437.23,917.67 438.31,917.16 439.39,916.64 440.48,916.12 441.56,915.58 442.64,915.04 443.73,914.49 444.81,913.93 445.89,913.37 446.98,912.80 448.06,912.22 449.14,911.63 450.22,911.04 451.31,910.43 452.39,909.82 453.47,909.20 454.56,908.57 455.64,907.93 456.72,907.29 457.81,906.63 458.89,905.97 459.97,905.30 461.06,904.62 462.14,903.93 463.22,903.24 464.30,902.53 465.39,901.81 466.47,901.09 467.55,900.36 468.64,899.61 469.72,898.86 470.80,898.10 471.89,897.33 472.97,896.55 474.05,895.76 475.14,894.96 476.22,894.15 477.30,893.33 478.38,892.50 479.47,891.66 480.55,890.81 481.63,889.95 482.72,889.09 483.80,888.21 484.88,887.32 485.97,886.42 487.05,885.51 488.13,884.59 489.22,883.66 490.30,882.72 491.38,881.77 492.46,880.81 493.55,879.83 494.63,878.85 495.71,877.86 496.80,876.85 497.88,875.84 498.96,874.81 500.05,873.77 501.13,872.73 502.21,871.67 503.30,870.60 504.38,869.52 505.46,868.43 506.54,867.32 507.63,866.21 508.71,865.09 509.79,863.95 510.88,862.80 511.96,861.64 513.04,860.48 514.13,859.29 515.21,858.10 516.29,856.90 517.38,855.69 518.46,854.46 519.54,853.22 520.62,851.98 521.71,850.72 522.79,849.45 523.87,848.16 524.96,846.87 526.04,845.57 527.12,844.25 528.21,842.92 529.29,841.59 530.37,840.24 531.46,838.88 532.54,837.51 533.62,836.12 534.71,834.73 535.79,833.33 536.87,831.91 537.95,830.49 539.04,829.05 540.12,827.60 541.20,826.14 542.29,824.67 543.37,823.19 544.45,821.70 545.54,820.20 546.62,818.69 547.70,817.16 548.79,815.63 549.87,814.09 550.95,812.53 552.03,810.97 553.12,809.40 554.20,807.81 555.28,806.22 556.37,804.62 557.45,803.00 558.53,801.38 559.62,799.75 560.70,798.11 561.78,796.46 562.87,794.80 563.95,793.13 565.03,791.45 566.11,789.76 567.20,788.07 568.28,786.36 569.36,784.65 570.45,782.93 571.53,781.20 572.61,779.47 573.70,777.72 574.78,775.97 575.86,774.21 576.95,772.44 578.03,770.67 579.11,768.89 580.19,767.10 581.28,765.31 582.36,763.50 583.44,761.70 584.53,759.88 585.61,758.06 586.69,756.24 587.78,754.41 588.86,752.57 589.94,750.73 591.03,748.89 592.11,747.04 593.19,745.18 594.27,743.32 595.36,741.46 596.44,739.59 597.52,737.72 598.61,735.85 599.69,733.97 600.77,732.09 601.86,730.21 602.94,728.32 604.02,726.43 605.11,724.55 606.19,722.65 607.27,720.76 608.35,718.87 609.44,716.98 610.52,715.08 611.60,713.19 612.69,711.29 613.77,709.40 614.85,707.50 615.94,705.61 617.02,703.72 618.10,701.83 619.19,699.94 620.27,698.05 621.35,696.17 622.43,694.28 623.52,692.40 624.60,690.53 625.68,688.65 626.77,686.79 627.85,684.92 628.93,683.06 630.02,681.20 631.10,679.35 632.18,677.51 633.27,675.67 634.35,673.83 635.43,672.00 636.51,670.18 637.60,668.37 638.68,666.56 639.76,664.76 640.85,662.97 641.93,661.18 643.01,659.41 644.10,657.64 645.18,655.88 646.26,654.14 647.35,652.40 648.43,650.67 649.51,648.95 650.59,647.24 651.68,645.55 652.76,643.86 653.84,642.19 654.93,640.53 656.01,638.88 657.09,637.24 658.18,635.62 659.26,634.01 660.34,632.41 661.43,630.83 662.51,629.26 663.59,627.71 664.67,626.17 665.76,624.65 666.84,623.14 667.92,621.65 669.01,620.17 670.09,618.71 671.17,617.27 672.26,615.84 673.34,614.44 674.42,613.04 675.51,611.67 676.59,610.32 677.67,608.98 678.76,607.66 679.84,606.36 680.92,605.09 682.00,603.83 683.09,602.59 684.17,601.37 685.25,600.17 686.34,598.99 687.42,597.83 688.50,596.70 689.59,595.58 690.67,594.49 691.75,593.42 692.84,592.37 693.92,591.34 695.00,590.33 696.08,589.35 697.17,588.39 698.25,587.46 699.33,586.55 700.42,585.66 701.50,584.80 702.58,583.96 703.67,583.14 704.75,582.35 705.83,581.58 706.92,580.84 708.00,580.12 709.08,579.43 710.16,578.76 711.25,578.12 712.33,577.51 713.41,576.92 714.50,576.35 715.58,575.82 716.66,575.30 717.75,574.82 718.83,574.36 719.91,573.93 721.00,573.52 722.08,573.14 723.16,572.79 724.24,572.46 725.33,572.16 726.41,571.89 727.49,571.65 728.58,571.43 729.66,571.24 730.74,571.07 731.83,570.94 732.91,570.83 733.99,570.75 735.08,570.69 736.16,570.66 737.24,570.66 738.32,570.69 739.41,570.75 740.49,570.83 741.57,570.94 742.66,571.07 743.74,571.24 744.82,571.43 745.91,571.65 746.99,571.89 748.07,572.16 749.16,572.46 750.24,572.79 751.32,573.14 752.40,573.52 753.49,573.93 754.57,574.36 755.65,574.82 756.74,575.30 757.82,575.82 758.90,576.35 759.99,576.92 761.07,577.51 762.15,578.12 763.24,578.76 764.32,579.43 765.40,580.12 766.48,580.84 767.57,581.58 768.65,582.35 769.73,583.14 770.82,583.96 771.90,584.80 772.98,585.66 774.07,586.55 775.15,587.46 776.23,588.39 777.32,589.35 778.40,590.33 779.48,591.34 780.56,592.37 781.65,593.42 782.73,594.49 783.81,595.58 784.90,596.70 785.98,597.83 787.06,598.99 788.15,600.17 789.23,601.37 790.31,602.59 791.40,603.83 792.48,605.09 793.56,606.36 794.64,607.66 795.73,608.98 796.81,610.32 797.89,611.67 798.98,613.04 800.06,614.44 801.14,615.84 802.23,617.27 803.31,618.71 804.39,620.17 805.48,621.65 806.56,623.14 807.64,624.65 808.73,626.17 809.81,627.71 810.89,629.26 811.97,630.83 813.06,632.41 814.14,634.01 815.22,635.62 816.31,637.24 817.39,638.88 818.47,640.53 819.56,642.19 820.64,643.86 821.72,645.55 822.81,647.24 823.89,648.95 824.97,650.67 826.05,652.40 827.14,654.14 828.22,655.88 829.30,657.64 830.39,659.41 831.47,661.18 832.55,662.97 833.64,664.76 834.72,666.56 835.80,668.37 836.89,670.18 837.97,672.00 839.05,673.83 840.13,675.67 841.22,677.51 842.30,679.35 843.38,681.20 844.47,683.06 845.55,684.92 846.63,686.79 847.72,688.65 848.80,690.53 849.88,692.40 850.97,694.28 852.05,696.17 853.13,698.05 854.21,699.94 855.30,701.83 856.38,703.72 857.46,705.61 858.55,707.50 859.63,709.40 860.71,711.29 861.80,713.19 862.88,715.08 863.96,716.98 865.05,718.87 866.13,720.76 867.21,722.65 868.29,724.55 869.38,726.43 870.46,728.32 871.54,730.21 872.63,732.09 873.71,733.97 874.79,735.85 875.88,737.72 876.96,739.59 878.04,741.46 879.13,743.32 880.21,745.18 881.29,747.04 882.37,748.89 883.46,750.73 884.54,752.57 885.62,754.41 886.71,756.24 887.79,758.06 888.87,759.88 889.96,761.70 891.04,763.50 892.12,765.31 893.21,767.10 894.29,768.89 895.37,770.67 896.45,772.44 897.54,774.21 898.62,775.97 899.70,777.72 900.79,779.47 901.87,781.20 902.95,782.93 904.04,784.65 905.12,786.36 906.20,788.07 907.29,789.76 908.37,791.45 909.45,793.13 910.53,794.80 911.62,796.46 912.70,798.11 913.78,799.75 914.87,801.38 915.95,803.00 917.03,804.62 918.12,806.22 919.20,807.81 920.28,809.40 921.37,810.97 922.45,812.53 923.53,814.09 924.61,815.63 925.70,817.16 926.78,818.69 927.86,820.20 928.95,821.70 930.03,823.19 931.11,824.67 932.20,826.14 933.28,827.60 934.36,829.05 935.45,830.49 936.53,831.91 937.61,833.33 938.69,834.73 939.78,836.12 940.86,837.51 941.94,838.88 943.03,840.24 944.11,841.59 945.19,842.92 946.28,844.25 947.36,845.57 948.44,846.87 949.53,848.16 950.61,849.45 951.69,850.72 952.78,851.98 953.86,853.22 954.94,854.46 956.02,855.69 957.11,856.90 958.19,858.10 959.27,859.29 960.36,860.48 961.44,861.64 962.52,862.80 963.61,863.95 964.69,865.09 965.77,866.21 966.86,867.32 967.94,868.43 969.02,869.52 970.10,870.60 971.19,871.67 972.27,872.73 973.35,873.77 974.44,874.81 975.52,875.84 976.60,876.85 977.69,877.86 978.77,878.85 979.85,879.83 980.94,880.81 982.02,881.77 983.10,882.72 984.18,883.66 985.27,884.59 986.35,885.51 987.43,886.42 988.52,887.32 989.60,888.21 990.68,889.09 991.77,889.95 992.85,890.81 993.93,891.66 995.02,892.50 996.10,893.33 997.18,894.15 998.26,894.96 999.35,895.76 1000.43,896.55 1001.51,897.33 1002.60,898.10 1003.68,898.86 1004.76,899.61 1005.85,900.36 1006.93,901.09 1008.01,901.81 1009.10,902.53 1010.18,903.24 1011.26,903.93 1012.34,904.62 1013.43,905.30 1014.51,905.97 1015.59,906.63 1016.68,907.29 1017.76,907.93 1018.84,908.57 1019.93,909.20 1021.01,909.82 1022.09,910.43 1023.18,911.04 1024.26,911.63 1025.34,912.22 1026.42,912.80 1027.51,913.37 1028.59,913.93 1029.67,914.49 1030.76,915.04 1031.84,915.58 1032.92,916.12 1034.01,916.64 1035.09,917.16 1036.17,917.67 1037.26,918.18 1038.34,918.68 1039.42,919.17 1040.50,919.65 1041.59,920.13 1042.67,920.60 1043.75,921.06 1044.84,921.52 1045.92,921.97 1047.00,922.41 1048.09,922.85 1049.17,923.28 1050.25,923.70 1051.34,924.12 1052.42,924.53 1053.50,924.93 1054.58,925.33 1055.67,925.73 1056.75,926.12 1057.83,926.50 1058.92,926.87 1060.00,927.24 1061.08,927.61 1062.17,927.97 1063.25,928.32 1064.33,928.67 1065.42,929.01 1066.50,929.35 1067.58,929.68 1068.66,930.01 1069.75,930.33 1070.83,930.65 1071.91,930.96 1073.00,931.27 1074.08,931.57 1075.16,931.87 1076.25,932.16 1077.33,932.45 1078.41,932.74 1079.50,933.02 1080.58,933.29 1081.66,933.56 1082.75,933.83 1083.83,934.09 1084.91,934.35 1085.99,934.60 1087.08,934.85 1088.16,935.10 1089.24,935.34 1090.33,935.57 1091.41,935.81 1092.49,936.04 1093.58,936.26 1094.66,936.49 1095.74,936.70 1096.83,936.92 1097.91,937.13 1098.99,937.34 1100.07,937.54 1101.16,937.74 1102.24,937.94 1103.32,938.13 1104.41,938.32 1105.49,938.51 1106.57,938.70 1107.66,938.88 1108.74,939.06 1109.82,939.23 1110.91,939.40 1111.99,939.57 1113.07,939.74 1114.15,939.90 1115.24,940.06 1116.32,940.22 1117.40,940.37 1118.49,940.53 1119.57,940.68 1120.65,940.82 1121.74,940.97 1122.82,941.11 1123.90,941.25 1124.99,941.39 1126.07,941.52 1127.15,941.65 1128.23,941.78 1129.32,941.91 1130.40,942.04 1131.48,942.16 1132.57,942.28 1133.65,942.40 1134.73,942.52 1135.82,942.63 1136.90,942.74 1137.98,942.85 1139.07,942.96 1140.15,943.07 1141.23,943.17 1142.31,943.28 1143.40,943.38 1144.48,943.48 1145.56,943.57 1146.65,943.67 1147.73,943.76 1148.81,943.85 1149.90,943.94 1150.98,944.03 1152.06,944.12 1153.15,944.21 1154.23,944.29 1155.31,944.37 1156.39,944.45 1157.48,944.53 1158.56,944.61 1159.64,944.69 1160.73,944.76 1161.81,944.83 1162.89,944.91 1163.98,944.98 1165.06,945.05 1166.14,945.11 1167.23,945.18 1168.31,945.25 1169.39,945.31 1170.47,945.37 1171.56,945.44 1172.64,945.50 1173.72,945.56 1174.81,945.62 1175.89,945.67 1176.97,945.73 1178.06,945.78 1179.14,945.84 1180.22,945.89 1181.31,945.94 1182.39,946.00 1183.47,946.05 1184.55,946.09 1185.64,946.14 1186.72,946.19 1187.80,946.24 1188.89,946.28 1189.97,946.33 1191.05,946.37 1192.14,946.41 1193.22,946.46 1194.30,946.50 1195.39,946.54 1196.47,946.58 1197.55,946.62 1198.63,946.65 1199.72,946.69 1200.80,946.73 1201.88,946.76 1202.97,946.80 1204.05,946.83 1205.13,946.87 1206.22,946.90 1207.30,946.93 1208.38,946.97 1209.47,947.00 1210.55,947.03 1211.63,947.06 1212.72,947.09 1213.80,947.12 1214.88,947.14 1215.96,947.17 1217.05,947.20 1218.13,947.23 1219.21,947.25 1220.30,947.28 1221.38,947.30 1222.46,947.33 1223.55,947.35 1224.63,947.38 1225.71,947.40 1226.80,947.42 1227.88,947.44 1228.96,947.47 1230.04,947.49 1231.13,947.51 1232.21,947.53 1233.29,947.55 1234.38,947.57 1235.46,947.59 1236.54,947.61 1237.63,947.63 1238.71,947.64 1239.79,947.66 1240.88,947.68 1241.96,947.70 1243.04,947.71 1244.12,947.73 1245.21,947.74 1246.29,947.76 1247.37,947.78 1248.46,947.79 1249.54,947.81 1250.62,947.82 1251.71,947.83 1252.79,947.85 1253.87,947.86 1254.96,947.88 1256.04,947.89 1257.12,947.90 1258.20,947.91 1259.29,947.93 1260.37,947.94 1261.45,947.95 1262.54,947.96 1263.62,947.97 1264.70,947.98 1265.79,947.99 1266.87,948.01 1267.95,948.02 1269.04,948.03 1270.12,948.04 1271.20,948.05 1272.28,948.06 1273.37,948.06 1274.45,948.07 1275.53,948.08 1276.62,948.09 1277.70,948.10" fill="none" stroke="#0000ff" stroke-opacity="0.8" stroke-width="6.68" stroke-linecap="round" stroke-linejoin="round"/><polyline points="195.70,948.50 196.78,948.50 197.87,948.50 198.95,948.50 200.03,948.50 201.12,948.50 202.20,948.50 203.28,948.50 204.36,948.50 205.45,948.50 206.53,948.50 207.61,948.50 208.70,948.50 209.78,948.50 210.86,948.50 211.95,948.50 213.03,948.50 214.11,948.50 215.20,948.50 216.28,948.50 217.36,948.50 218.44,948.50 219.53,948.50 220.61,948.50 221.69,948.50 222.78,948.50 223.86,948.50 224.94,948.50 226.03,948.50 227.11,948.50 228.19,948.50 229.28,948.50 230.36,948.50 231.44,948.50 232.52,948.50 233.61,948.50 234.69,948.50 235.77,948.50 236.86,948.50 237.94,948.50 239.02,948.50 240.11,948.50 241.19,948.50 242.27,948.50 243.36,948.50 244.44,948.50 245.52,948.50 246.60,948.50 247.69,948.50 248.77,948.50 249.85,948.50 250.94,948.50 252.02,948.50 253.10,948.50 254.19,948.50 255.27,948.50 256.35,948.50 257.44,948.50 258.52,948.50 259.60,948.50 260.68,948.50 261.77,948.50 262.85,948.50 263.93,948.50 265.02,948.50 266.10,948.50 267.18,948.50 268.27,948.50 269.35,948.50 270.43,948.50 271.52,948.50 272.60,948.50 273.68,948.50 274.77,948.50 275.85,948.50 276.93,948.50 278.01,948.50 279.10,948.50 280.18,948.50 281.26,948.50 282.35,948.50 283.43,948.50 284.51,948.50 285.60,948.50 286.68,948.50 287.76,948.50 288.85,948.50 289.93,948.50 291.01,948.50 292.09,948.50 293.18,948.50 294.26,948.50 295.34,948.50 296.43,948.50 297.51,948.50 298.59,948.50 299.68,948.50 300.76,948.50 301.84,948.50 302.93,948.50 304.01,948.50 305.09,948.50 306.17,948.50 307.26,948.50 308.34,948.50 309.42,948.50 310.51,948.50 311.59,948.50 312.67,948.50 313.76,948.50 314.84,948.50 315.92,948.50 317.01,948.50 318.09,948.50 319.17,948.50 320.25,948.50 321.34,948.50 322.42,948.50 323.50,948.50 324.59,948.50 325.67,948.50 326.75,948.50 327.84,948.50 328.92,948.50 330.00,948.50 331.09,948.50 332.17,948.50 333.25,948.50 334.33,948.50 335.42,948.50 336.50,948.50 337.58,948.50 338.67,948.50 339.75,948.50 340.83,948.50 341.92,948.50 343.00,948.50 344.08,948.50 345.17,948.50 346.25,948.50 347.33,948.50 348.41,948.50 349.50,948.50 350.58,948.50 351.66,948.50 352.75,948.50 353.83,948.50 354.91,948.50 356.00,948.50 357.08,948.50 358.16,948.50 359.25,948.50 360.33,948.50 361.41,948.50 362.49,948.49 363.58,948.49 364.66,948.49 365.74,948.49 366.83,948.49 367.91,948.49 368.99,948.49 370.08,948.49 371.16,948.49 372.24,948.49 373.33,948.49 374.41,948.49 375.49,948.49 376.57,948.49 377.66,948.49 378.74,948.49 379.82,948.49 380.91,948.49 381.99,948.49 383.07,948.49 384.16,948.49 385.24,948.49 386.32,948.49 387.41,948.49 388.49,948.48 389.57,948.48 390.65,948.48 391.74,948.48 392.82,948.48 393.90,948.48 394.99,948.48 396.07,948.48 397.15,948.48 398.24,948.48 399.32,948.48 400.40,948.47 401.49,948.47 402.57,948.47 403.65,948.47 404.74,948.47 405.82,948.47 406.90,948.47 407.98,948.47 409.07,948.46 410.15,948.46 411.23,948.46 412.32,948.46 413.40,948.46 414.48,948.45 415.57,948.45 416.65,948.45 417.73,948.45 418.82,948.45 419.90,948.44 420.98,948.44 422.06,948.44 423.15,948.43 424.23,948.43 425.31,948.43 426.40,948.42 427.48,948.42 428.56,948.42 429.65,948.41 430.73,948.41 431.81,948.40 432.90,948.40 433.98,948.39 435.06,948.39 436.14,948.38 437.23,948.38 438.31,948.37 439.39,948.37 440.48,948.36 441.56,948.35 442.64,948.35 443.73,948.34 444.81,948.33 445.89,948.33 446.98,948.32 448.06,948.31 449.14,948.30 450.22,948.29 451.31,948.28 452.39,948.27 453.47,948.26 454.56,948.25 455.64,948.24 456.72,948.22 457.81,948.21 458.89,948.20 459.97,948.18 461.06,948.17 462.14,948.15 463.22,948.13 464.30,948.12 465.39,948.10 466.47,948.08 467.55,948.06 468.64,948.04 469.72,948.02 470.80,948.00 471.89,947.97 472.97,947.95 474.05,947.92 475.14,947.89 476.22,947.87 477.30,947.84 478.38,947.81 479.47,947.77 480.55,947.74 481.63,947.70 482.72,947.67 483.80,947.63 484.88,947.59 485.97,947.54 487.05,947.50 488.13,947.45 489.22,947.41 490.30,947.35 491.38,947.30 492.46,947.25 493.55,947.19 494.63,947.13 495.71,947.06 496.80,947.00 497.88,946.93 498.96,946.86 500.05,946.78 501.13,946.70 502.21,946.62 503.30,946.53 504.38,946.44 505.46,946.35 506.54,946.25 507.63,946.15 508.71,946.04 509.79,945.93 510.88,945.82 511.96,945.69 513.04,945.57 514.13,945.44 515.21,945.30 516.29,945.15 517.38,945.00 518.46,944.85 519.54,944.68 520.62,944.51 521.71,944.33 522.79,944.15 523.87,943.95 524.96,943.75 526.04,943.54 527.12,943.32 528.21,943.09 529.29,942.86 530.37,942.61 531.46,942.35 532.54,942.08 533.62,941.80 534.71,941.51 535.79,941.20 536.87,940.89 537.95,940.56 539.04,940.21 540.12,939.85 541.20,939.48 542.29,939.09 543.37,938.69 544.45,938.27 545.54,937.84 546.62,937.38 547.70,936.91 548.79,936.42 549.87,935.91 550.95,935.38 552.03,934.83 553.12,934.26 554.20,933.66 555.28,933.05 556.37,932.41 557.45,931.74 558.53,931.05 559.62,930.33 560.70,929.59 561.78,928.81 562.87,928.01 563.95,927.18 565.03,926.32 566.11,925.42 567.20,924.49 568.28,923.53 569.36,922.53 570.45,921.50 571.53,920.43 572.61,919.32 573.70,918.17 574.78,916.98 575.86,915.75 576.95,914.48 578.03,913.16 579.11,911.80 580.19,910.38 581.28,908.92 582.36,907.42 583.44,905.86 584.53,904.24 585.61,902.58 586.69,900.86 587.78,899.08 588.86,897.24 589.94,895.35 591.03,893.39 592.11,891.37 593.19,889.29 594.27,887.14 595.36,884.93 596.44,882.65 597.52,880.29 598.61,877.87 599.69,875.37 600.77,872.80 601.86,870.15 602.94,867.43 604.02,864.62 605.11,861.74 606.19,858.77 607.27,855.72 608.35,852.58 609.44,849.36 610.52,846.04 611.60,842.64 612.69,839.15 613.77,835.57 614.85,831.89 615.94,828.12 617.02,824.25 618.10,820.28 619.19,816.21 620.27,812.05 621.35,807.78 622.43,803.41 623.52,798.94 624.60,794.36 625.68,789.68 626.77,784.90 627.85,780.00 628.93,775.00 630.02,769.89 631.10,764.68 632.18,759.35 633.27,753.92 634.35,748.37 635.43,742.72 636.51,736.96 637.60,731.09 638.68,725.10 639.76,719.01 640.85,712.82 641.93,706.51 643.01,700.10 644.10,693.58 645.18,686.95 646.26,680.22 647.35,673.38 648.43,666.45 649.51,659.41 650.59,652.28 651.68,645.04 652.76,637.71 653.84,630.29 654.93,622.78 656.01,615.18 657.09,607.49 658.18,599.72 659.26,591.87 660.34,583.94 661.43,575.93 662.51,567.86 663.59,559.71 664.67,551.51 665.76,543.24 666.84,534.92 667.92,526.54 669.01,518.12 670.09,509.65 671.17,501.15 672.26,492.61 673.34,484.04 674.42,475.45 675.51,466.83 676.59,458.21 677.67,449.58 678.76,440.94 679.84,432.31 680.92,423.69 682.00,415.08 683.09,406.49 684.17,397.93 685.25,389.40 686.34,380.92 687.42,372.47 688.50,364.09 689.59,355.76 690.67,347.49 691.75,339.30 692.84,331.19 693.92,323.16 695.00,315.23 696.08,307.39 697.17,299.66 698.25,292.05 699.33,284.55 700.42,277.18 701.50,269.94 702.58,262.84 703.67,255.88 704.75,249.08 705.83,242.43 706.92,235.95 708.00,229.64 709.08,223.51 710.16,217.56 711.25,211.80 712.33,206.23 713.41,200.87 714.50,195.70 715.58,190.75 716.66,186.01 717.75,181.50 718.83,177.20 719.91,173.14 721.00,169.31 722.08,165.71 723.16,162.36 724.24,159.25 725.33,156.39 726.41,153.78 727.49,151.42 728.58,149.32 729.66,147.47 730.74,145.89 731.83,144.57 732.91,143.51 733.99,142.71 735.08,142.18 736.16,141.91 737.24,141.91 738.32,142.18 739.41,142.71 740.49,143.51 741.57,144.57 742.66,145.89 743.74,147.47 744.82,149.32 745.91,151.42 746.99,153.78 748.07,156.39 749.16,159.25 750.24,162.36 751.32,165.71 752.40,169.31 753.49,173.14 754.57,177.20 755.65,181.50 756.74,186.01 757.82,190.75 758.90,195.70 759.99,200.87 761.07,206.23 762.15,211.80 763.24,217.56 764.32,223.51 765.40,229.64 766.48,235.95 767.57,242.43 768.65,249.08 769.73,255.88 770.82,262.84 771.90,269.94 772.98,277.18 774.07,284.55 775.15,292.05 776.23,299.66 777.32,307.39 778.40,315.23 779.48,323.16 780.56,331.19 781.65,339.30 782.73,347.49 783.81,355.76 784.90,364.09 785.98,372.47 787.06,380.92 788.15,389.40 789.23,397.93 790.31,406.49 791.40,415.08 792.48,423.69 793.56,432.31 794.64,440.94 795.73,449.58 796.81,458.21 797.89,466.83 798.98,475.45 800.06,484.04 801.14,492.61 802.23,501.15 803.31,509.65 804.39,518.12 805.48,526.54 806.56,534.92 807.64,543.24 808.73,551.51 809.81,559.71 810.89,567.86 811.97,575.93 813.06,583.94 814.14,591.87 815.22,599.72 816.31,607.49 817.39,615.18 818.47,622.78 819.56,630.29 820.64,637.71 821.72,645.04 822.81,652.28 823.89,659.41 824.97,666.45 826.05,673.38 827.14,680.22 828.22,686.95 829.30,693.58 830.39,700.10 831.47,706.51 832.55,712.82 833.64,719.01 834.72,725.10 835.80,731.09 836.89,736.96 837.97,742.72 839.05,748.37 840.13,753.92 841.22,759.35 842.30,764.68 843.38,769.89 844.47,775.00 845.55,780.00 846.63,784.90 847.72,789.68 848.80,794.36 849.88,798.94 850.97,803.41 852.05,807.78 853.13,812.05 854.21,816.21 855.30,820.28 856.38,824.25 857.46,828.12 858.55,831.89 859.63,835.57 860.71,839.15 861.80,842.64 862.88,846.04 863.96,849.36 865.05,852.58 866.13,855.72 867.21,858.77 868.29,861.74 869.38,864.62 870.46,867.43 871.54,870.15 872.63,872.80 873.71,875.37 874.79,877.87 875.88,880.29 876.96,882.65 878.04,884.93 879.13,887.14 880.21,889.29 881.29,891.37 882.37,893.39 883.46,895.35 884.54,897.24 885.62,899.08 886.71,900.86 887.79,902.58 888.87,904.24 889.96,905.86 891.04,907.42 892.12,908.92 893.21,910.38 894.29,911.80 895.37,913.16 896.45,914.48 897.54,915.75 898.62,916.98 899.70,918.17 900.79,919.32 901.87,920.43 902.95,921.50 904.04,922.53 905.12,923.53 906.20,924.49 907.29,925.42 908.37,926.32 909.45,927.18 910.53,928.01 911.62,928.81 912.70,929.59 913.78,930.33 914.87,931.05 915.95,931.74 917.03,932.41 918.12,933.05 919.20,933.66 920.28,934.26 921.37,934.83 922.45,935.38 923.53,935.91 924.61,936.42 925.70,936.91 926.78,937.38 927.86,937.84 928.95,938.27 930.03,938.69 931.11,939.09 932.20,939.48 933.28,939.85 934.36,940.21 935.45,940.56 936.53,940.89 937.61,941.20 938.69,941.51 939.78,941.80 940.86,942.08 941.94,942.35 943.03,942.61 944.11,942.86 945.19,943.09 946.28,943.32 947.36,943.54 948.44,943.75 949.53,943.95 950.61,944.15 951.69,944.33 952.78,944.51 953.86,944.68 954.94,944.85 956.02,945.00 957.11,945.15 958.19,945.30 959.27,945.44 960.36,945.57 961.44,945.69 962.52,945.82 963.61,945.93 964.69,946.04 965.77,946.15 966.86,946.25 967.94,946.35 969.02,946.44 970.10,946.53 971.19,946.62 972.27,946.70 973.35,946.78 974.44,946.86 975.52,946.93 976.60,947.00 977.69,947.06 978.77,947.13 979.85,947.19 980.94,947.25 982.02,947.30 983.10,947.35 984.18,947.41 985.27,947.45 986.35,947.50 987.43,947.54 988.52,947.59 989.60,947.63 990.68,947.67 991.77,947.70 992.85,947.74 993.93,947.77 995.02,947.81 996.10,947.84 997.18,947.87 998.26,947.89 999.35,947.92 1000.43,947.95 1001.51,947.97 1002.60,948.00 1003.68,948.02 1004.76,948.04 1005.85,948.06 1006.93,948.08 1008.01,948.10 1009.10,948.12 1010.18,948.13 1011.26,948.15 1012.34,948.17 1013.43,948.18 1014.51,948.20 1015.59,948.21 1016.68,948.22 1017.76,948.24 1018.84,948.25 1019.93,948.26 1021.01,948.27 1022.09,948.28 1023.18,948.29 1024.26,948.30 1025.34,948.31 1026.42,948.32 1027.51,948.33 1028.59,948.33 1029.67,948.34 1030.76,948.35 1031.84,948.35 1032.92,948.36 1034.01,948.37 1035.09,948.37 1036.17,948.38 1037.26,948.38 1038.34,948.39 1039.42,948.39 1040.50,948.40 1041.59,948.40 1042.67,948.41 1043.75,948.41 1044.84,948.42 1045.92,948.42 1047.00,948.42 1048.09,948.43 1049.17,948.43 1050.25,948.43 1051.34,948.44 1052.42,948.44 1053.50,948.44 1054.58,948.45 1055.67,948.45 1056.75,948.45 1057.83,948.45 1058.92,948.45 1060.00,948.46 1061.08,948.46 1062.17,948.46 1063.25,948.46 1064.33,948.46 1065.42,948.47 1066.50,948.47 1067.58,948.47 1068.66,948.47 1069.75,948.47 1070.83,948.47 1071.91,948.47 1073.00,948.47 1074.08,948.48 1075.16,948.48 1076.25,948.48 1077.33,948.48 1078.41,948.48 1079.50,948.48 1080.58,948.48 1081.66,948.48 1082.75,948.48 1083.83,948.48 1084.91,948.48 1085.99,948.49 1087.08,948.49 1088.16,948.49 1089.24,948.49 1090.33,948.49 1091.41,948.49 1092.49,948.49 1093.58,948.49 1094.66,948.49 1095.74,948.49 1096.83,948.49 1097.91,948.49 1098.99,948.49 1100.07,948.49 1101.16,948.49 1102.24,948.49 1103.32,948.49 1104.41,948.49 1105.49,948.49 1106.57,948.49 1107.66,948.49 1108.74,948.49 1109.82,948.49 1110.91,948.49 1111.99,948.50 1113.07,948.50 1114.15,948.50 1115.24,948.50 1116.32,948.50 1117.40,948.50 1118.49,948.50 1119.57,948.50 1120.65,948.50 1121.74,948.50 1122.82,948.50 1123.90,948.50 1124.99,948.50 1126.07,948.50 1127.15,948.50 1128.23,948.50 1129.32,948.50 1130.40,948.50 1131.48,948.50 1132.57,948.50 1133.65,948.50 1134.73,948.50 1135.82,948.50 1136.90,948.50 1137.98,948.50 1139.07,948.50 1140.15,948.50 1141.23,948.50 1142.31,948.50 1143.40,948.50 1144.48,948.50 1145.56,948.50 1146.65,948.50 1147.73,948.50 1148.81,948.50 1149.90,948.50 1150.98,948.50 1152.06,948.50 1153.15,948.50 1154.23,948.50 1155.31,948.50 1156.39,948.50 1157.48,948.50 1158.56,948.50 1159.64,948.50 1160.73,948.50 1161.81,948.50 1162.89,948.50 1163.98,948.50 1165.06,948.50 1166.14,948.50 1167.23,948.50 1168.31,948.50 1169.39,948.50 1170.47,948.50 1171.56,948.50 1172.64,948.50 1173.72,948.50 1174.81,948.50 1175.89,948.50 1176.97,948.50 1178.06,948.50 1179.14,948.50 1180.22,948.50 1181.31,948.50 1182.39,948.50 1183.47,948.50 1184.55,948.50 1185.64,948.50 1186.72,948.50 1187.80,948.50 1188.89,948.50 1189.97,948.50 1191.05,948.50 1192.14,948.50 1193.22,948.50 1194.30,948.50 1195.39,948.50 1196.47,948.50 1197.55,948.50 1198.63,948.50 1199.72,948.50 1200.80,948.50 1201.88,948.50 1202.97,948.50 1204.05,948.50 1205.13,948.50 1206.22,948.50 1207.30,948.50 1208.38,948.50 1209.47,948.50 1210.55,948.50 1211.63,948.50 1212.72,948.50 1213.80,948.50 1214.88,948.50 1215.96,948.50 1217.05,948.50 1218.13,948.50 1219.21,948.50 1220.30,948.50 1221.38,948.50 1222.46,948.50 1223.55,948.50 1224.63,948.50 1225.71,948.50 1226.80,948.50 1227.88,948.50 1228.96,948.50 1230.04,948.50 1231.13,948.50 1232.21,948.50 1233.29,948.50 1234.38,948.50 1235.46,948.50 1236.54,948.50 1237.63,948.50 1238.71,948.50 1239.79,948.50 1240.88,948.50 1241.96,948.50 1243.04,948.50 1244.12,948.50 1245.21,948.50 1246.29,948.50 1247.37,948.50 1248.46,948.50 1249.54,948.50 1250.62,948.50 1251.71,948.50 1252.79,948.50 1253.87,948.50 1254.96,948.50 1256.04,948.50 1257.12,948.50 1258.20,948.50 1259.29,948.50 1260.37,948.50 1261.45,948.50 1262.54,948.50 1263.62,948.50 1264.70,948.50 1265.79,948.50 1266.87,948.50 1267.95,948.50 1269.04,948.50 1270.12,948.50 1271.20,948.50 1272.28,948.50 1273.37,948.50 1274.45,948.50 1275.53,948.50 1276.62,948.50 1277.70,948.50" fill="none" stroke="#ff0000" stroke-opacity="0.8" stroke-width="6.68" stroke-linecap="round" stroke-linejoin="round"/><rect x="141.5" y="101.5" width="1191.0" height="887.0" fill="none" stroke="#cccccc" stroke-width="3.34" stroke-linejoin="miter"/><rect x="782.4" y="116.7" width="535.00" height="178.70" rx="5.88" ry="5.88" fill="#ffffff" fill-opacity="0.8" stroke="#cccccc" stroke-opacity="0.8" stroke-width="2.67"/><line x1="794.5" y1="139.2" x2="853.3" y2="139.2" stroke="#000000" stroke-opacity="0.9" stroke-width="5.34" stroke-dasharray="19.77 8.55"/><line x1="794.5" y1="182.0" x2="853.3" y2="182.0" stroke="#008000" stroke-opacity="0.8" stroke-width="6.68" stroke-linecap="round"/><line x1="794.5" y1="224.8" x2="853.3" y2="224.8" stroke="#0000ff" stroke-opacity="0.8" stroke-width="6.68" stroke-linecap="round"/><line x1="794.5" y1="267.5" x2="853.3" y2="267.5" stroke="#ff0000" stroke-opacity="0.8" stroke-width="6.68" stroke-linecap="round"/><text transform="translate(875.8,149.80) scale(1,1.08)" x="0" y="0" font-family='"Liberation Sans", sans-serif' font-size="29.4" fill="#262626">True Distribution N(0, 1)</text><text transform="translate(875.8,192.60) scale(1,1.08)" x="0" y="0" font-family='"Liberation Sans", sans-serif' font-size="29.4" fill="#262626">Weak Prior (Pred. SD=0.79)</text><text transform="translate(875.8,235.40) scale(1,1.08)" x="0" y="0" font-family='"Liberation Sans", sans-serif' font-size="29.4" fill="#262626">Strong Correct (Pred. SD=0.96)</text><text transform="translate(875.8,278.10) scale(1,1.08)" x="0" y="0" font-family='"Liberation Sans", sans-serif' font-size="29.4" fill="#262626">Strong Incorrect (Pred. SD=0.45)</text><text transform="translate(116,963.50) scale(1,1.105)" x="0" y="0" text-anchor="end" font-family='"Liberation Sans", sans-serif' font-size="40" fill="#262626">0.0</text><text transform="translate(116,779.75) scale(1,1.105)" x="0" y="0" text-anchor="end" font-family='"Liberation Sans", sans-serif' font-size="40" fill="#262626">0.2</text><text transform="translate(116,596.00) scale(1,1.105)" x="0" y="0" text-anchor="end" font-family='"Liberation Sans", sans-serif' font-size="40" fill="#262626">0.4</text><text transform="translate(116,412.25) scale(1,1.105)" x="0" y="0" text-anchor="end" font-family='"Liberation Sans", sans-serif' font-size="40" fill="#262626">0.6</text><text transform="translate(116,228.50) scale(1,1.105)" x="0" y="0" text-anchor="end" font-family='"Liberation Sans", sans-serif' font-size="40" fill="#262626">0.8</text><text transform="translate(195.54,1044.2) scale(1,1.105)" x="0" y="0" text-anchor="middle" font-family='"Liberation Sans", sans-serif' font-size="40" fill="#262626">−4</text><text transform="translate(330.78,1044.2) scale(1,1.105)" x="0" y="0" text-anchor="middle" font-family='"Liberation Sans", sans-serif' font-size="40" fill="#262626">−3</text><text transform="translate(466.02,1044.2) scale(1,1.105)" x="0" y="0" text-anchor="middle" font-family='"Liberation Sans", sans-serif' font-size="40" fill="#262626">−2</text><text transform="translate(601.26,1044.2) scale(1,1.105)" x="0" y="0" text-anchor="middle" font-family='"Liberation Sans", sans-serif' font-size="40" fill="#262626">−1</text><text transform="translate(736.50,1044.2) scale(1,1.105)" x="0" y="0" text-anchor="middle" font-family='"Liberation Sans", sans-serif' font-size="40" fill="#262626">0</text><text transform="translate(871.74,1044.2) scale(1,1.105)" x="0" y="0" text-anchor="middle" font-family='"Liberation Sans", sans-serif' font-size="40" fill="#262626">1</text><text transform="translate(1006.98,1044.2) scale(1,1.105)" x="0" y="0" text-anchor="middle" font-family='"Liberation Sans", sans-serif' font-size="40" fill="#262626">2</text><text transform="translate(1142.22,1044.2) scale(1,1.105)" x="0" y="0" text-anchor="middle" font-family='"Liberation Sans", sans-serif' font-size="40" fill="#262626">3</text><text transform="translate(1277.46,1044.2) scale(1,1.105)" x="0" y="0" text-anchor="middle" font-family='"Liberation Sans", sans-serif' font-size="40" fill="#262626">4</text><text transform="translate(737,45.8) scale(1,1.035)" x="0" y="0" text-anchor="middle" font-family='"Liberation Sans", sans-serif' font-size="37.4" fill="#262626">Posterior Predictive Distributions (n=5)</text><text transform="translate(737,85.8) scale(1,1.035)" x="0" y="0" text-anchor="middle" font-family='"Liberation Sans", sans-serif' font-size="37.4" fill="#262626">How Prior Beliefs affect Future Predictions</text><text transform="translate(582.0,1090) scale(1,1.05)" x="0" y="0" font-family='"Liberation Sans", sans-serif' font-size="32.2" fill="#262626">Future Data Value (</text><text transform="translate(862.3,1090) scale(1.05,1)" x="0" y="0" font-family='"Liberation Sans", sans-serif' font-size="34" font-style="italic" fill="#262626">x</text><path d="M869.5,1067.6 C870.7,1064.2 872.7,1063.9 874.10,1065.90 S877.5,1067.8999999999999 878.7,1064.2" fill="none" stroke="#262626" stroke-width="2.3" stroke-linecap="butt"/><text transform="translate(882.6,1090) scale(1,1.05)" x="0" y="0" font-family='"Liberation Sans", sans-serif' font-size="32" fill="#262626">)</text><text x="0" y="0" transform="translate(44,549.2) rotate(-90) scale(1,1.05)" text-anchor="middle" font-family='"Liberation Sans", sans-serif' font-size="31.7" fill="#262626">Density</text></svg></body></html>
